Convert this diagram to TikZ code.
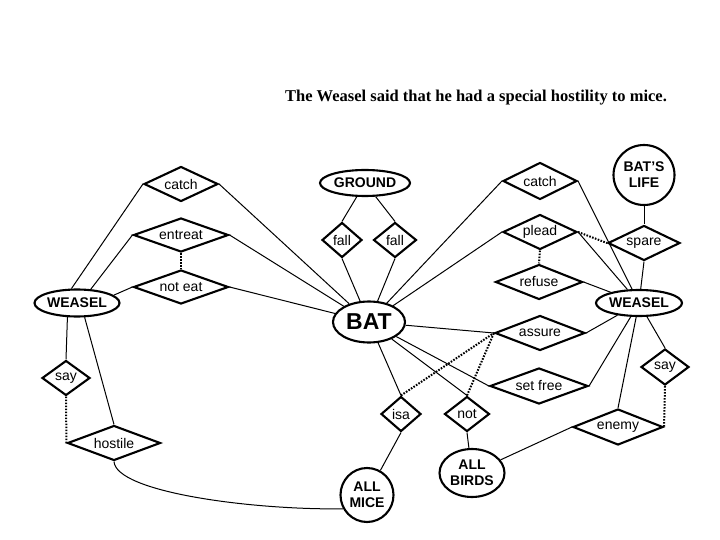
\documentclass[tikz,border=0pt]{standalone}
\usepackage{fontspec}
\setmainfont{Liberation Sans}
\newfontfamily\fabtitlefont{Liberation Serif}
\usetikzlibrary{shapes.geometric}

\begin{document}
\begin{tikzpicture}[
   x=1bp,y=-1bp,
   fabent/.style={draw,ellipse,line width=2.1bp,inner sep=0pt,align=center,
     font=\fontsize{14bp}{16bp}\selectfont\bfseries},
   fabrel/.style 2 args={draw,diamond,line width=2.1bp,inner sep=0pt,aspect=2,
     minimum width=#1bp,minimum height=#2bp,font=\fontsize{14bp}{16bp}\selectfont},
   fablink/.style={line width=1bp},
   fabdot/.style={line width=2bp,dash pattern=on 1.6bp off 1.4bp}
 ]
 \useasboundingbox (0,0) rectangle (720,540);
 \node[font=\fabtitlefont\fontsize{16.5bp}{18bp}\selectfont\bfseries] (title) at (476,98)
   {The Weasel said that he had a special hostility to mice.};
 % Entities
 \node[fabent,minimum width=85bp,minimum height=27bp] (weaselL) at (77,303) {WEASEL};
 \node[fabent,minimum width=90bp,minimum height=26bp] (ground) at (365,183) {GROUND};
 \node[fabent,minimum width=72bp,minimum height=41bp,
   font=\fontsize{23bp}{25bp}\selectfont\bfseries] (bat) at (369,322) {BAT};
 \node[fabent,minimum width=61bp,minimum height=60bp] (batslife) at (644,175) {BAT’S\\LIFE};
 \node[fabent,minimum width=86bp,minimum height=26bp] (weaselR) at (639,303) {WEASEL};
 \node[fabent,minimum width=53bp,minimum height=54bp] (allmice) at (367,495) {ALL\\MICE};
 \node[fabent,minimum width=65bp,minimum height=48bp] (allbirds) at (472,473) {ALL\\BIRDS};
 % Relations
 \node[fabrel={74}{35}] (catchL) at (181,184) {catch};
 \node[fabrel={95}{34}] (entreat) at (181,235) {entreat};
 \node[fabrel={95}{34}] (noteat) at (181,287) {not eat};
 \node[fabrel={40}{35}] (fallA) at (342,240) {fall};
 \node[fabrel={43}{35}] (fallB) at (395,240) {fall};
 \node[fabrel={74}{37}] (catchR) at (540,181) {catch};
 \node[fabrel={74}{35}] (plead) at (540,232) {plead};
 \node[fabrel={87}{35}] (refuse) at (539,282) {refuse};
 \node[fabrel={72}{35}] (spare) at (644,243) {spare};
 \node[fabrel={90}{35}] (assure) at (540,333) {assure};
 \node[fabrel={48}{36}] (sayR) at (665,367) {say};
 \node[fabrel={98}{36}] (setfree) at (539,386) {set free};
 \node[fabrel={90}{36}] (enemy) at (618,427) {enemy};
 \node[fabrel={40}{35}] (isa) at (401,414) {isa};
 \node[fabrel={45}{35}] (not) at (467,414) {not};
 \node[fabrel={48}{35}] (sayL) at (66,378) {say};
 \node[fabrel={93}{35}] (hostile) at (114,443) {hostile};
 \foreach \from/\to in {
   weaselL.111/catchL.west,weaselL.45/entreat.west,weaselL.12/noteat.west,
   weaselL.236/sayL.north,weaselL.298/hostile.north,
   catchL.east/bat,entreat.east/bat,noteat.east/bat,
   ground/fallA.north,ground/fallB.north,fallA.south/bat,fallB.south/bat,
   bat/catchR.west,bat/plead.west,bat/assure.west,bat/setfree.west,
   bat/isa.north,bat/not.north,
   catchR.east/weaselR,plead.east/weaselR,refuse.east/weaselR,
   batslife/spare.north,spare.south/weaselR,assure.east/weaselR,
   weaselR/setfree.east,weaselR/enemy.north,weaselR/sayR.north,
   isa.south/allmice,not.south/allbirds,allbirds/enemy.west} {
   \draw[fablink] (\from) -- (\to);
 }
 \foreach \from/\to in {
   entreat.south/noteat.north,plead.south/refuse.north,plead.east/spare.west,
   isa.north/assure.west,not.north/assure.west,
   sayL.south/hostile.west,sayR.south/enemy.east} {
   \draw[fabdot] (\from) -- (\to);
 }
 \draw[fablink] (hostile.south) .. controls (116,492) and (250,510) .. (allmice.210);
\end{tikzpicture}
\end{document}
